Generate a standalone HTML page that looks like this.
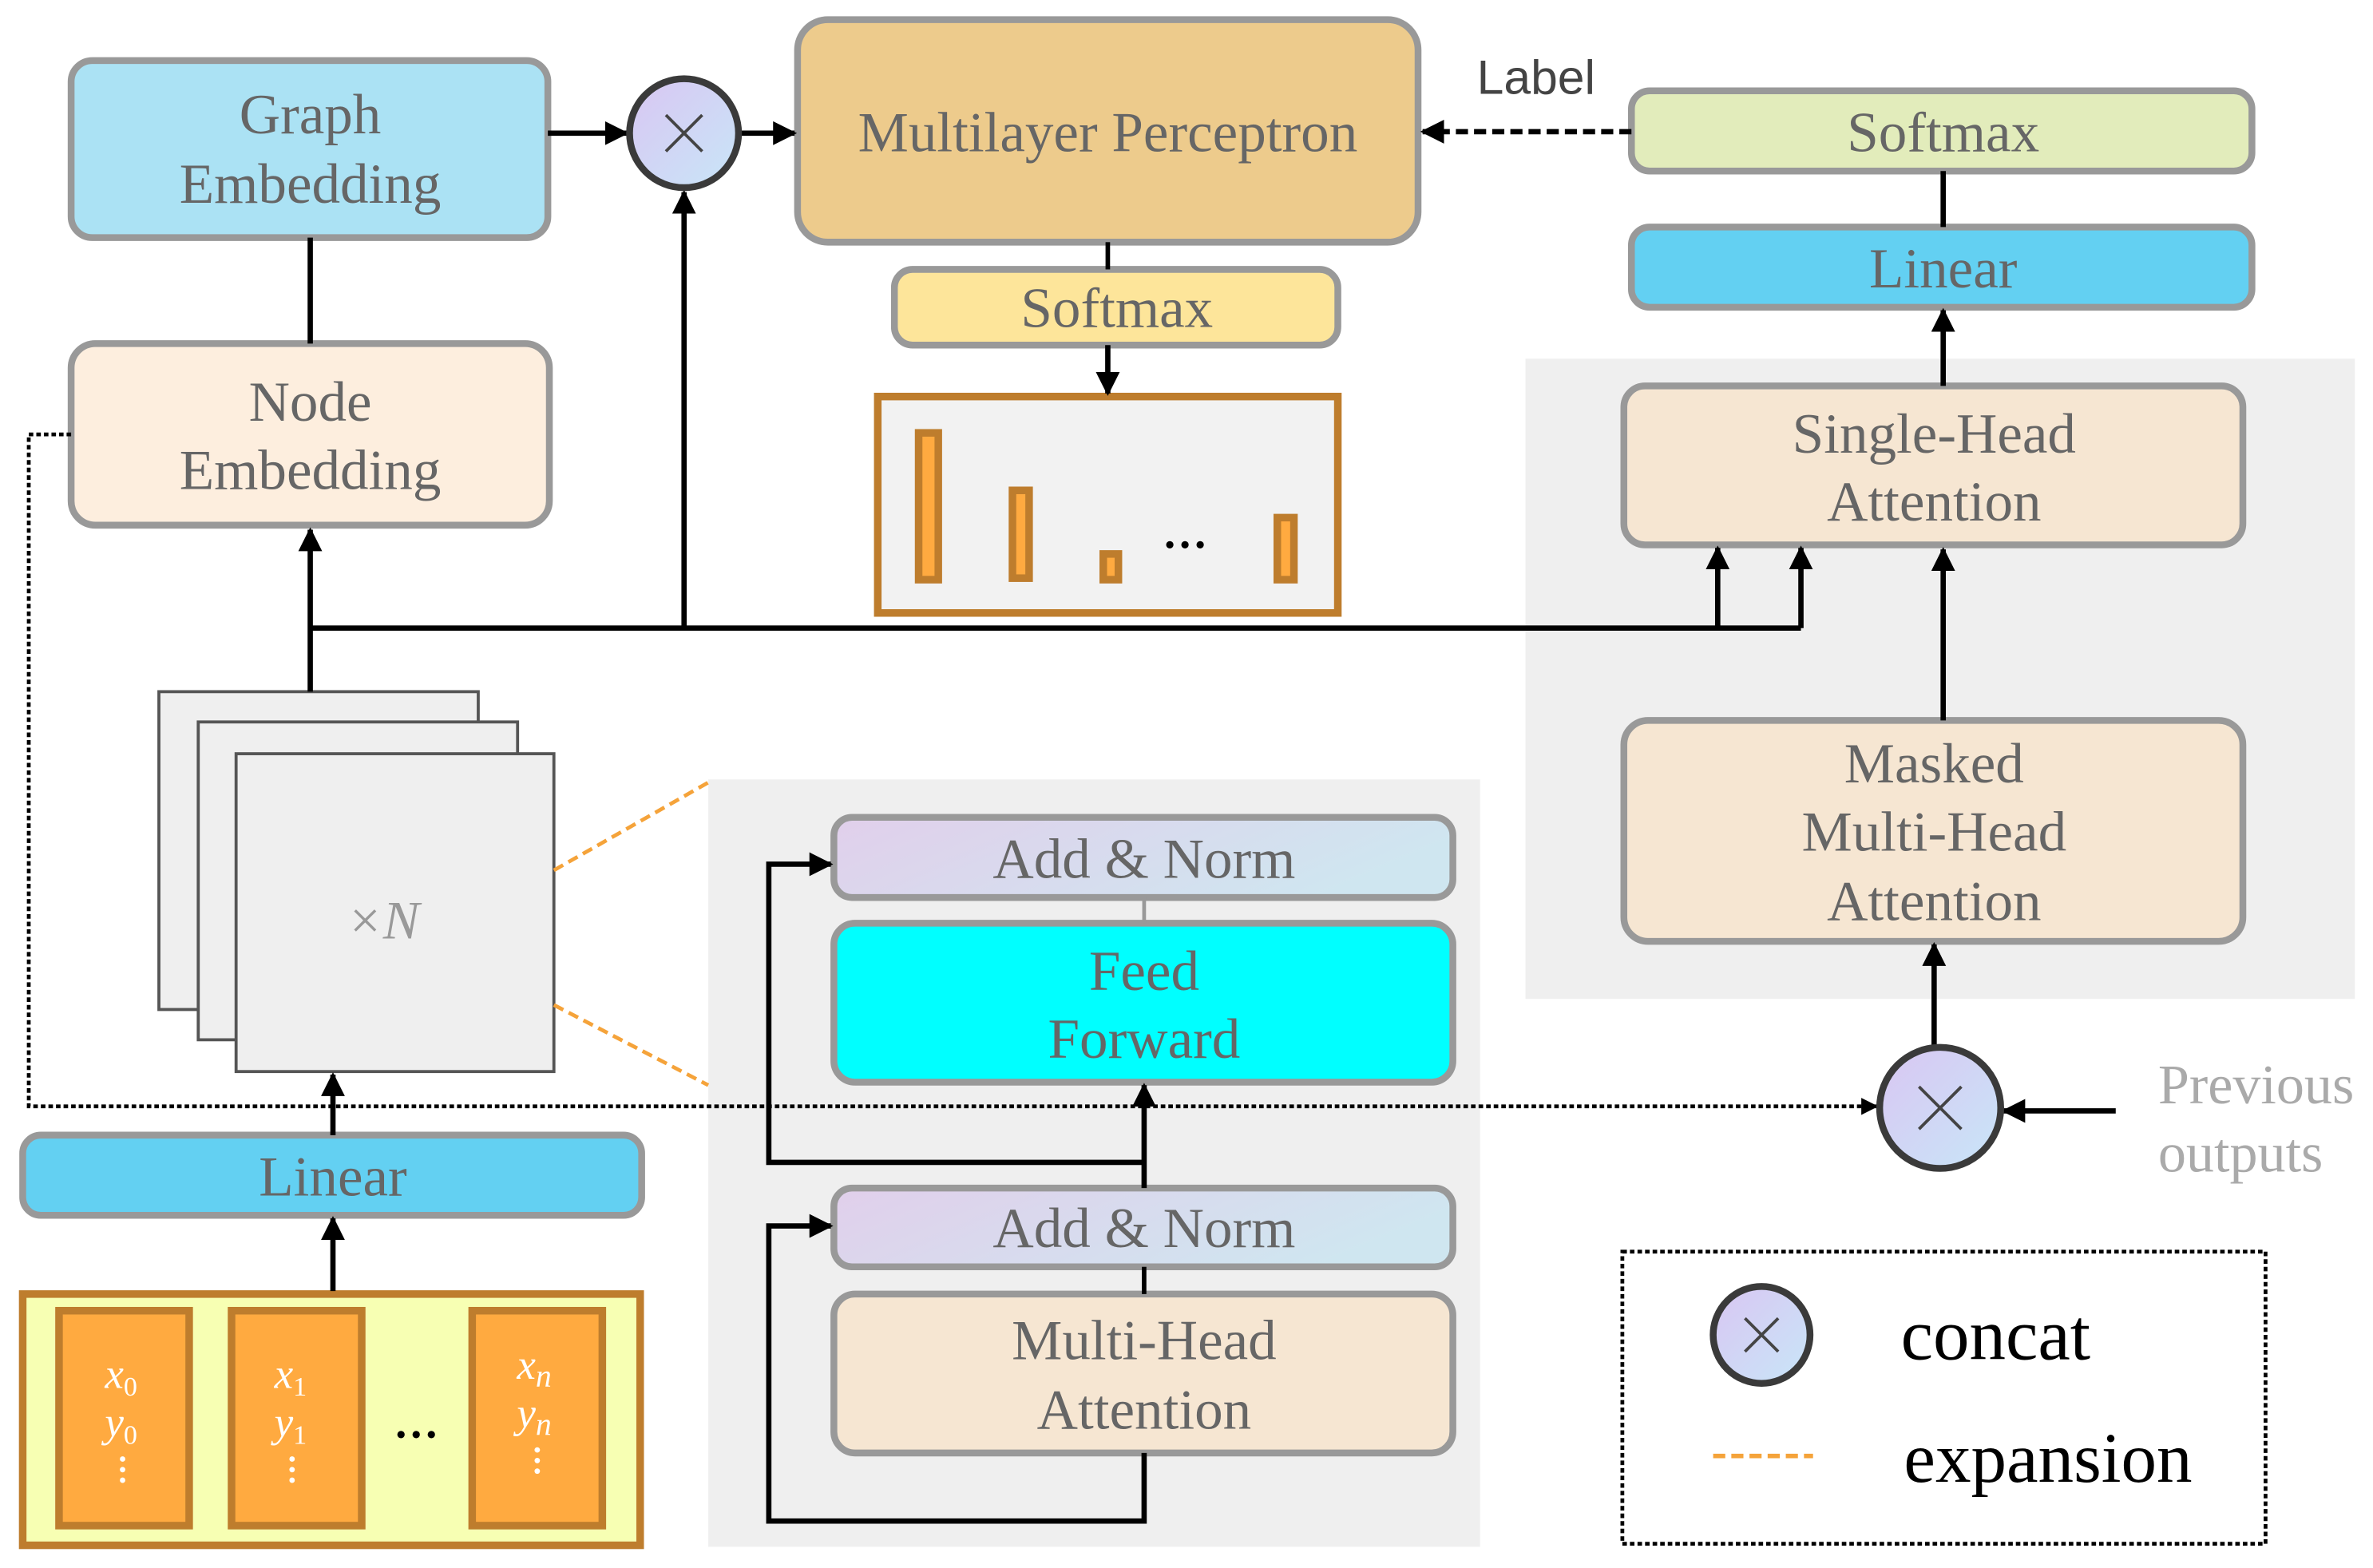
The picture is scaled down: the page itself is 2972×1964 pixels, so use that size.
<!DOCTYPE html>
<html><head><meta charset="utf-8"><style>html,body{margin:0;padding:0;background:#fff}svg{display:block}</style></head>
<body>
<svg width="2972" height="1964" viewBox="0 0 1568 1036" preserveAspectRatio="none" xmlns="http://www.w3.org/2000/svg" font-family="'Liberation Serif', serif">
<defs>
<linearGradient id="an" x1="0" y1="0" x2="1" y2="0.3"><stop offset="0" stop-color="#e1cfeb"/><stop offset="1" stop-color="#cfe6f0"/></linearGradient>
<linearGradient id="cc" x1="0" y1="0" x2="1" y2="1"><stop offset="0" stop-color="#d9c6f2"/><stop offset="1" stop-color="#c8e6f8"/></linearGradient>
<marker id="ar" viewBox="0 0 10 10" refX="9" refY="5" markerWidth="4.5" markerHeight="4.5" orient="auto"><path d="M0,0 L10,5 L0,10 z" fill="#000"/></marker>
</defs>
<rect x="1008" y="237" width="548" height="423" fill="#efefef"/>
<rect x="468" y="515" width="510" height="507" fill="#efefef"/>

<g stroke="#999" stroke-width="4.5">
<rect x="47" y="40" width="315" height="117" rx="14" fill="#abe2f4"/>
<rect x="47" y="227" width="316" height="120" rx="16" fill="#fdeede"/>
<rect x="527" y="13" width="410" height="147" rx="20" fill="#edcb8c"/>
<rect x="1078" y="60" width="410" height="53" rx="12" fill="#e2ecbb"/>
<rect x="1078" y="150" width="410" height="53" rx="12" fill="#63d0f2"/>
<rect x="1073" y="255" width="409" height="105" rx="14" fill="#f6e6d2"/>
<rect x="1073" y="476" width="409" height="146" rx="16" fill="#f6e6d2"/>
<rect x="591" y="178" width="293" height="50" rx="12" fill="#fde59a"/>
<rect x="551" y="540" width="409" height="53" rx="12" fill="url(#an)"/>
<rect x="551" y="610" width="409" height="105" rx="14" fill="#00ffff"/>
<rect x="551" y="785" width="409" height="52" rx="12" fill="url(#an)"/>
<rect x="551" y="855" width="409" height="105" rx="14" fill="#f6e6d2"/>
<rect x="15" y="750" width="409" height="53" rx="12" fill="#63d0f2"/>
</g>
<line x1="756" y1="593" x2="756" y2="610" stroke="#999" stroke-width="2.5"/>
<line x1="756" y1="837" x2="756" y2="855" stroke="#000" stroke-width="3"/>

<rect x="580" y="262" width="304" height="143" fill="#f2f2f2" stroke="#be7d2d" stroke-width="5"/>
<g fill="#ffaa40" stroke="#be7d2d" stroke-width="5">
<rect x="607" y="286" width="13" height="97"/>
<rect x="669" y="324" width="11" height="58"/>
<rect x="729" y="366" width="10" height="17"/>
<rect x="844" y="342" width="11" height="41"/>
</g>
<text x="783" y="370" font-size="30" text-anchor="middle" fill="#000" font-weight="bold">···</text>

<g fill="#efefef" stroke="#555" stroke-width="2">
<rect x="105" y="457" width="211" height="210"/>
<rect x="131" y="477" width="211" height="210"/>
<rect x="156" y="498" width="210" height="210"/>
</g>
<text x="253" y="620" font-size="36" font-style="italic" fill="#999" text-anchor="middle">×N</text>
<g stroke="#f5a33a" stroke-width="2.5" stroke-dasharray="7,4">
<line x1="366" y1="575" x2="468" y2="517"/><line x1="366" y1="664" x2="468" y2="717"/>
</g>

<rect x="15" y="855" width="408" height="166" fill="#f7ffb3" stroke="#be7d2d" stroke-width="5"/>
<g fill="#ffaa40" stroke="#be7d2d" stroke-width="5">
<rect x="39" y="866" width="86" height="142"/><rect x="153" y="866" width="86" height="142"/><rect x="312" y="866" width="86" height="142"/>
</g>
<g fill="#fff" font-size="28" font-style="italic" text-anchor="middle">
<text x="80" y="917">x<tspan font-size="18" font-style="normal" dy="5">0</tspan></text>
<text x="80" y="949">y<tspan font-size="18" font-style="normal" dy="5">0</tspan></text>
<text x="192" y="917">x<tspan font-size="18" font-style="normal" dy="5">1</tspan></text>
<text x="192" y="949">y<tspan font-size="18" font-style="normal" dy="5">1</tspan></text>
<text x="353" y="911">x<tspan font-size="21" dy="5">n</tspan></text>
<text x="353" y="943">y<tspan font-size="21" dy="5">n</tspan></text>
</g>
<g fill="#fff"><circle cx="81" cy="964" r="1.8"/><circle cx="81" cy="971" r="1.8"/><circle cx="81" cy="978" r="1.8"/>
<circle cx="193" cy="964" r="1.8"/><circle cx="193" cy="971" r="1.8"/><circle cx="193" cy="978" r="1.8"/>
<circle cx="355" cy="958" r="1.8"/><circle cx="355" cy="965" r="1.8"/><circle cx="355" cy="972" r="1.8"/></g>
<text x="275" y="958" font-size="30" text-anchor="middle" fill="#000" font-weight="bold">···</text>

<g stroke="#000" stroke-width="3.5" fill="none">
<line x1="205" y1="157" x2="205" y2="227"/>
<line x1="205" y1="457" x2="205" y2="350" marker-end="url(#ar)"/>
<line x1="205" y1="415" x2="1190" y2="415"/>
<line x1="452" y1="415" x2="452" y2="127" marker-end="url(#ar)"/>
<line x1="1135" y1="415" x2="1135" y2="362" marker-end="url(#ar)"/>
<line x1="1190" y1="415" x2="1190" y2="362" marker-end="url(#ar)"/>
<line x1="362" y1="88" x2="414" y2="88" marker-end="url(#ar)"/>
<line x1="488" y1="88" x2="525" y2="88" marker-end="url(#ar)"/>
<line x1="732" y1="160" x2="732" y2="178" stroke-width="3"/>
<line x1="732" y1="228" x2="732" y2="260" marker-end="url(#ar)"/>
<line x1="1284" y1="113" x2="1284" y2="150"/>
<line x1="1284" y1="255" x2="1284" y2="205" marker-end="url(#ar)"/>
<line x1="1284" y1="476" x2="1284" y2="363" marker-end="url(#ar)"/>
<line x1="1278" y1="692" x2="1278" y2="624" marker-end="url(#ar)"/>
<line x1="1398" y1="734" x2="1324" y2="734" marker-end="url(#ar)"/>
<line x1="1078" y1="87" x2="940" y2="87" stroke-dasharray="8,4" marker-end="url(#ar)"/>
<line x1="220" y1="853" x2="220" y2="805" marker-end="url(#ar)"/>
<line x1="220" y1="750" x2="220" y2="710" marker-end="url(#ar)"/>
<line x1="756" y1="785" x2="756" y2="717" marker-end="url(#ar)"/>
<polyline points="756,768 508,768 508,571 549,571" marker-end="url(#ar)"/>
<polyline points="756,960 756,1005 508,1005 508,810 549,810" marker-end="url(#ar)"/>
<polyline points="47,287 19,287 19,731 1240,731" stroke-width="2.5" stroke-dasharray="3,2" marker-end="url(#ar)"/>
</g>

<g stroke="#3a3a3a" stroke-width="4.5" fill="url(#cc)">
<circle cx="452" cy="88" r="36"/><circle cx="1282" cy="732" r="40"/><circle cx="1164" cy="882" r="32"/>
</g>
<g stroke="#444" stroke-width="2">
<path d="M440,76 L464,100 M464,76 L440,100"/>
<path d="M1268,718 L1296,746 M1296,718 L1268,746"/>
<path d="M1153,871 L1175,893 M1175,871 L1153,893"/>
</g>

<g fill="#666" font-size="37.5" text-anchor="middle">
<text x="205" y="88">Graph</text><text x="205" y="134">Embedding</text>
<text x="205" y="278">Node</text><text x="205" y="323">Embedding</text>
<text x="732" y="100">Multilayer Perceptron</text>
<text x="1284" y="100">Softmax</text>
<text x="1284" y="190">Linear</text>
<text x="1278" y="299">Single-Head</text><text x="1278" y="344">Attention</text>
<text x="1278" y="517">Masked</text><text x="1278" y="562">Multi-Head</text><text x="1278" y="608">Attention</text>
<text x="738" y="216">Softmax</text>
<text x="756" y="580">Add &amp; Norm</text>
<text x="756" y="654">Feed</text><text x="756" y="699">Forward</text>
<text x="756" y="824">Add &amp; Norm</text>
<text x="756" y="898">Multi-Head</text><text x="756" y="944">Attention</text>
<text x="220" y="790">Linear</text>
</g>
<g fill="#aaa" font-size="37"><text x="1426" y="729">Previous</text><text x="1426" y="774">outputs</text></g>
<text x="1015" y="62" font-family="'Liberation Sans', sans-serif" font-size="32" fill="#444" text-anchor="middle">Label</text>

<rect x="1072" y="827" width="425" height="193" fill="none" stroke="#000" stroke-width="2.5" stroke-dasharray="3,2"/>
<text x="1256" y="898" font-size="48" fill="#000">concat</text>
<line x1="1132" y1="962" x2="1198" y2="962" stroke="#f5a33a" stroke-width="3" stroke-dasharray="8,4"/>
<text x="1258" y="979" font-size="47" fill="#000">expansion</text>
</svg>
</body></html>
